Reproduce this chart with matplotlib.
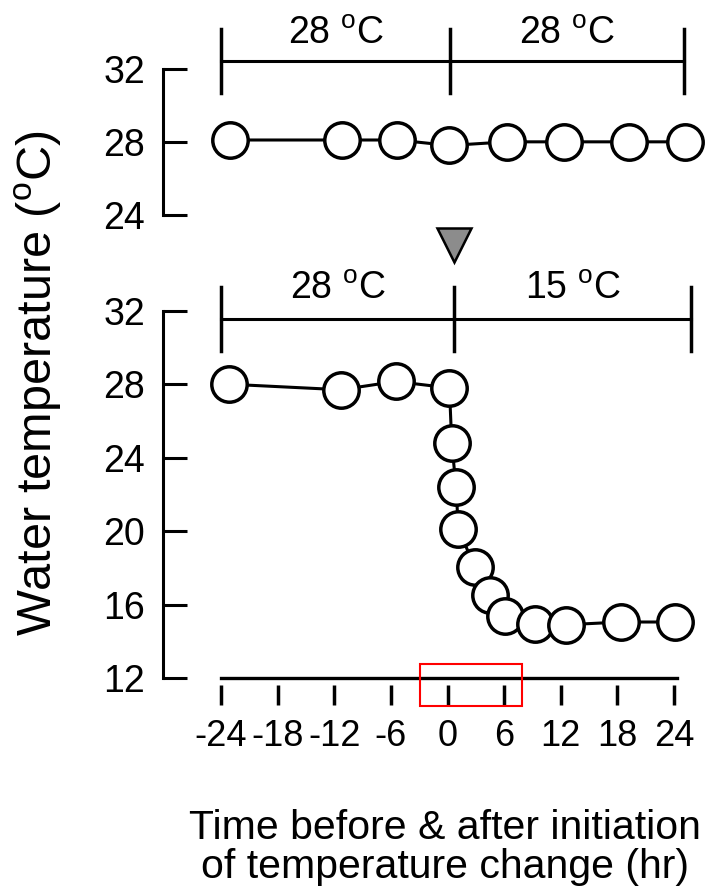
import matplotlib.pyplot as plt
from matplotlib.patches import Rectangle

plt.rcParams['font.family'] = ['Liberation Sans', 'DejaVu Sans']

# control group: 28 -> 28 degC
ctrl_hr = [-23, -11.2, -5.3, 0.2, 6.3, 12.3, 19.2, 25.2]
ctrl_temp = [28.1, 28.1, 28.1, 27.8, 28.0, 28.0, 28.0, 28.0]

# cold group: 28 -> 15 degC
cold_hr = [-23.1, -11.3, -5.5, 0.2, 0.45, 0.9, 1.15, 2.9, 4.5, 6.1, 9.3, 12.6, 18.4, 24.1]
cold_temp = [28.0, 27.7, 28.15, 27.8, 24.8, 22.4, 20.1, 18.05, 16.5, 15.4, 14.95, 14.9, 15.05, 15.05]

x_ticks = [-24, -18, -12, -6, 0, 6, 12, 18, 24]
top_yticks = [24, 28, 32]
bot_yticks = [12, 16, 20, 24, 28, 32]

# brackets above each panel: ends / split, label per segment
top_bracket = [-24, 0.3, 25]
top_labels = ['28', '28']
bot_bracket = [-24, 0.7, 25.8]
bot_labels = ['28', '15']

# arrowhead marking the start of the change
switch_hr, switch_y = 0.7, 35.6

fig = plt.figure(figsize=(7.08, 8.96), dpi=100)
ax_top = fig.add_axes([0.2302, 0.7600, 0.7619, 0.2247])
ax_bot = fig.add_axes([0.2302, 0.2433, 0.7619, 0.5123])

line_kw = dict(color='black', lw=2.2, marker='o', ms=25.5, mfc='white',
               mec='black', mew=2.5, clip_on=False, zorder=3)


def style_y(ax, ticks):
    for s in ['top', 'right']:
        ax.spines[s].set_visible(False)
    ax.spines['left'].set_bounds(ticks[0], ticks[-1])
    ax.spines['left'].set_linewidth(2.2)
    ax.set_yticks(ticks)
    ax.tick_params(axis='y', direction='in', length=17, width=2.2, pad=13,
                   labelsize=27)
    ax.set_xlim(-30.14, 27)


def bracket(ax, ends, labels, y, text_y):
    ax.plot([ends[0], ends[-1]], [y, y], color='black', lw=2.2, clip_on=False)
    for xv in ends:
        ax.plot([xv, xv], [y - 1.75, y + 1.75], color='black', lw=2.5,
                clip_on=False)
    for i, lab in enumerate(labels):
        xc = (ends[i] + ends[i + 1]) / 2
        ax.text(xc, text_y, lab + r' $^{\mathregular{o}}$C', ha='center',
                va='center', fontsize=27)


# top panel
ax_top.plot(ctrl_hr, ctrl_temp, **line_kw)
ax_top.set_ylim(24, 35)
style_y(ax_top, top_yticks)
ax_top.spines['bottom'].set_visible(False)
ax_top.set_xticks([])
bracket(ax_top, top_bracket, top_labels, 32.4, 33.9)

# bottom panel
ax_bot.plot(cold_hr, cold_temp, **line_kw)
ax_bot.set_ylim(12, 37)
style_y(ax_bot, bot_yticks)
bracket(ax_bot, bot_bracket, bot_labels, 31.55, 33.2)
ax_bot.plot([switch_hr], [switch_y], marker='v', ms=24, mfc='#8c8c8c',
            mec='black', mew=1.8, clip_on=False)

ax_bot.plot([-24, 24.3], [12, 12], color='black', lw=2.4, clip_on=False)
ax_bot.spines['bottom'].set_position(('outward', 5))
ax_bot.spines['bottom'].set_color('none')
ax_bot.set_xticks(x_ticks)
ax_bot.set_xticklabels([str(v) for v in x_ticks])
ax_bot.tick_params(axis='x', direction='out', length=14.5, width=2.5, pad=10,
                   labelsize=26, color='black')

ax_bot.add_patch(Rectangle((-2.9, 10.47), 10.8, 2.29, fill=False,
                           edgecolor='red', lw=1.5, clip_on=False, zorder=4))

ax_bot.set_xlabel('Time before & after initiation\nof temperature change (hr)',
                  fontsize=29.5, linespacing=1.05)
ax_bot.xaxis.set_label_coords(0.523, -0.285)

fig.text(38 / 708, 1 - 383 / 896, r'Water temperature ($^{\mathregular{o}}$C)',
         rotation=90, ha='center', va='center', fontsize=35)

fig.savefig('out.png', dpi=100)
